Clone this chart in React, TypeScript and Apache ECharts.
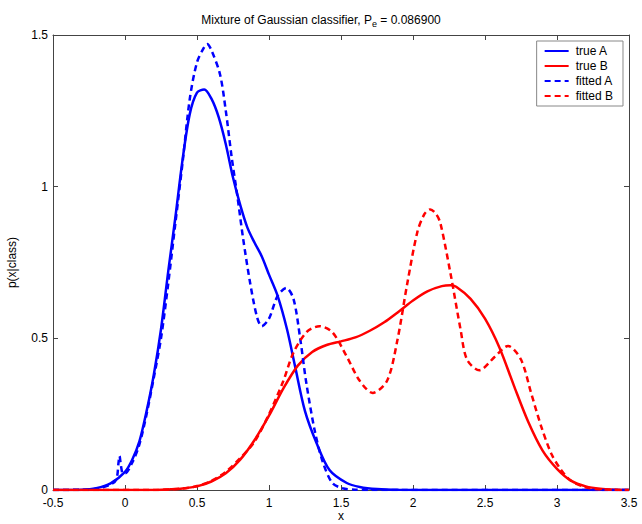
import React, { useEffect, useRef } from "react";
import * as echarts from "echarts";

const xTicks = { min: -0.5, max: 3.5, interval: 0.5 };
const yTicks = { min: 0, max: 1.5, interval: 0.5 };

const trueA: [number, number][] = [
  [-0.5, 0], [-0.3, 0.001], [-0.2, 0.006], [-0.1, 0.022], [0, 0.06], [0.05, 0.1], [0.1, 0.16],
  [0.15, 0.26], [0.2, 0.38], [0.25, 0.53], [0.3, 0.72], [0.35, 0.9], [0.4, 1.09], [0.45, 1.24],
  [0.5, 1.31], [0.55, 1.32], [0.6, 1.29], [0.65, 1.23], [0.7, 1.14], [0.75, 1.03], [0.8, 0.94],
  [0.85, 0.865], [0.9, 0.815], [0.95, 0.77], [1.0, 0.71], [1.06, 0.64], [1.125, 0.53],
  [1.18, 0.41], [1.25, 0.26], [1.33, 0.155], [1.42, 0.066], [1.54, 0.023], [1.63, 0.01],
  [1.75, 0.003], [1.9, 0.0005], [2.2, 0], [3.5, 0],
];

const fittedA: [number, number][] = [
  [-0.5, 0], [-0.3, 0.001], [-0.2, 0.004], [-0.1, 0.018], [-0.06, 0.035], [-0.045, 0.09],
  [-0.038, 0.112], [-0.028, 0.08], [-0.015, 0.055], [0, 0.055], [0.05, 0.09], [0.1, 0.15],
  [0.15, 0.25], [0.2, 0.37], [0.25, 0.5], [0.3, 0.68], [0.35, 0.88], [0.4, 1.08], [0.45, 1.29],
  [0.5, 1.41], [0.55, 1.46], [0.57, 1.47], [0.6, 1.45], [0.66, 1.37], [0.7, 1.25], [0.74, 1.1],
  [0.78, 0.97], [0.82, 0.83], [0.87, 0.68], [0.917, 0.57], [0.95, 0.54], [1.0, 0.565],
  [1.06, 0.64], [1.12, 0.666], [1.17, 0.63], [1.215, 0.505], [1.26, 0.35], [1.32, 0.19],
  [1.375, 0.09], [1.44, 0.023], [1.51, 0.006], [1.6, 0.001], [1.7, 0], [3.5, 0],
];

const trueB: [number, number][] = [
  [-0.5, 0], [0.2, 0], [0.3, 0.002], [0.4, 0.005], [0.5, 0.012], [0.6, 0.028], [0.7, 0.055],
  [0.8, 0.1], [0.9, 0.165], [1.0, 0.245], [1.1, 0.335], [1.2, 0.41], [1.3, 0.455], [1.4, 0.478],
  [1.5, 0.49], [1.6, 0.503], [1.7, 0.525], [1.8, 0.553], [1.9, 0.588], [2.0, 0.625], [2.1, 0.655],
  [2.2, 0.672], [2.26, 0.675], [2.3, 0.67], [2.4, 0.63], [2.5, 0.565], [2.6, 0.47], [2.7, 0.345],
  [2.8, 0.225], [2.9, 0.13], [3.0, 0.07], [3.1, 0.03], [3.2, 0.012], [3.3, 0.004], [3.4, 0.001],
  [3.5, 0],
];

const fittedB: [number, number][] = [
  [-0.5, 0], [0.2, 0], [0.3, 0.002], [0.4, 0.005], [0.5, 0.013], [0.6, 0.03], [0.7, 0.06],
  [0.8, 0.105], [0.9, 0.16], [1.0, 0.25], [1.1, 0.36], [1.167, 0.45], [1.26, 0.52], [1.35, 0.54],
  [1.44, 0.52], [1.54, 0.44], [1.63, 0.36], [1.72, 0.32], [1.82, 0.36], [1.89, 0.49], [1.96, 0.68],
  [2.03, 0.85], [2.08, 0.91], [2.12, 0.925], [2.16, 0.91], [2.19, 0.88], [2.26, 0.715],
  [2.33, 0.53], [2.375, 0.43], [2.46, 0.395], [2.57, 0.44], [2.66, 0.475], [2.75, 0.43],
  [2.82, 0.32], [2.89, 0.21], [2.96, 0.12], [3.02, 0.072], [3.09, 0.033], [3.19, 0.01],
  [3.3, 0.002], [3.5, 0],
];

const seriesNames = ["true A", "true B", "fitted A", "fitted B"];
const titleText = "Mixture of Gaussian classifier, P{sub|e} = 0.086900";

const FONT = "'Liberation Sans', Arial, Helvetica, sans-serif";
const AXIS = "#444";

export default function App() {
  const ref = useRef<HTMLDivElement>(null);
  useEffect(() => {
    if (!ref.current) return;
    const chart = echarts.init(ref.current, null, { renderer: "svg" });
    const mkLine = (name: string, data: [number, number][], color: string, dashed: boolean) => ({
      name,
      type: "line",
      data,
      showSymbol: false,
      symbol: "none",
      smooth: 0.3,
      lineStyle: { color, width: 2.5, type: dashed ? [6, 4] : "solid" },
      itemStyle: { color },
      z: 3,
    });
    const baseAxis = {
      axisLine: { show: true, onZero: false, lineStyle: { color: AXIS, width: 1 } },
      axisTick: { show: true, inside: true, length: 5, lineStyle: { color: AXIS } },
      splitLine: { show: false },
    };
    chart.setOption({
      animation: false,
      backgroundColor: "#fff",
      textStyle: { fontFamily: FONT },
      title: {
        text: titleText,
        left: "center",
        top: 6,
        textStyle: {
          fontFamily: FONT,
          fontSize: 12,
          fontWeight: "normal",
          color: "#000",
          rich: {
            sub: { fontSize: 9, verticalAlign: "bottom", padding: [8, 0, 0, 0], fontFamily: FONT, color: "#000" },
          },
        },
      },
      legend: {
        orient: "vertical",
        right: 19,
        top: 41,
        data: seriesNames,
        itemWidth: 24,
        itemHeight: 12,
        itemGap: 3,
        padding: [4, 10, 4, 7],
        borderColor: "#888",
        borderWidth: 1,
        backgroundColor: "#fff",
        itemStyle: { opacity: 0 },
        textStyle: { fontFamily: FONT, fontSize: 12, color: "#000", padding: [0, 0, 0, 2] },
        z: 10,
      },
      grid: { left: 53, right: 13, top: 35, bottom: 34, containLabel: false, outerBoundsMode: "none" },
      xAxis: [
        {
          type: "value",
          ...xTicks,
          ...baseAxis,
          name: "x",
          nameLocation: "middle",
          nameGap: 20,
          nameMoveOverlap: false,
          nameTextStyle: { fontFamily: FONT, fontSize: 12, lineHeight: 12, color: "#000" },
          axisLabel: { fontFamily: FONT, fontSize: 12, color: "#000", margin: 7 },
        },
        {
          type: "value",
          position: "top",
          ...xTicks,
          ...baseAxis,
          axisLabel: { show: false },
        },
      ],
      yAxis: [
        {
          type: "value",
          ...yTicks,
          ...baseAxis,
          name: "p(x|class)",
          nameLocation: "middle",
          nameGap: 35,
          nameRotate: 90,
          nameMoveOverlap: false,
          nameTextStyle: { fontFamily: FONT, fontSize: 12, color: "#000" },
          axisLabel: { fontFamily: FONT, fontSize: 12, color: "#000", margin: 5 },
        },
        {
          type: "value",
          position: "right",
          ...yTicks,
          ...baseAxis,
          axisLabel: { show: false },
        },
      ],
      series: [
        mkLine(seriesNames[0], trueA, "#0000ff", false),
        mkLine(seriesNames[1], trueB, "#ff0000", false),
        mkLine(seriesNames[2], fittedA, "#0000ff", true),
        mkLine(seriesNames[3], fittedB, "#ff0000", true),
      ],
    });
    return () => chart.dispose();
  }, []);
  return <div ref={ref} style={{ width: 642, height: 524, position: "absolute", left: 0, top: 0 }} />;
}
